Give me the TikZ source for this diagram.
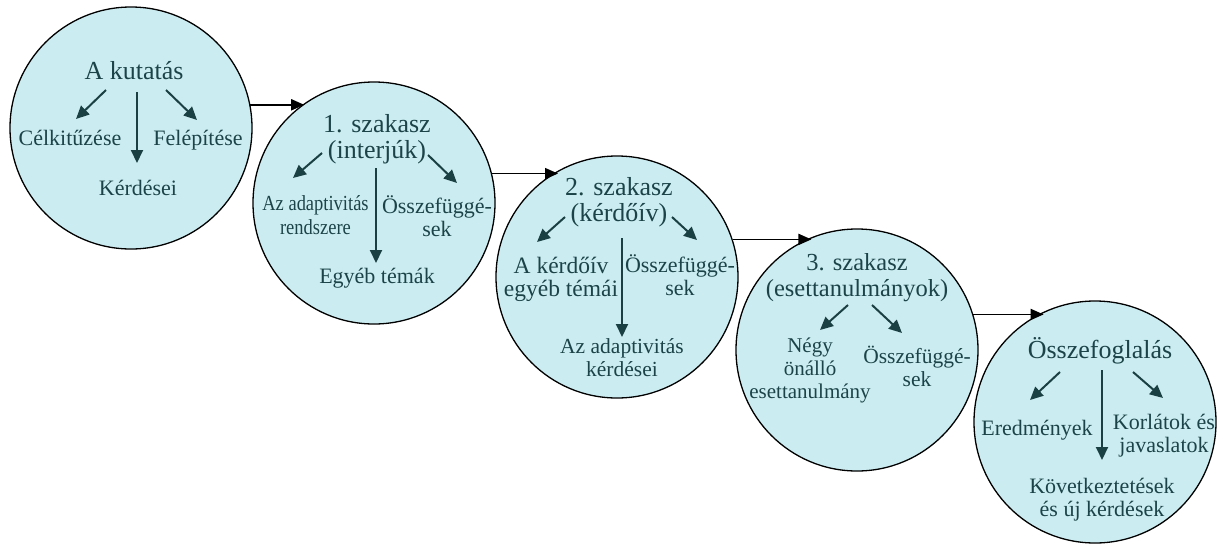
\documentclass[tikz,border=0pt]{standalone}
\usepackage{graphicx}
\usepackage{fontspec}
\setmainfont{Liberation Serif}
\usetikzlibrary{arrows.meta}
\definecolor{bubblefill}{RGB}{203,237,242}
\definecolor{ink}{RGB}{28,68,72}
\definecolor{arrowink}{RGB}{26,64,68}

% horizontally condensed text for a tight label
\newcommand{\narrowtext}[1]{\scalebox{0.86}[1]{#1}}

% multi-line labels are anchored at the baseline of their last line
\tikzset{
  bubble/.style={circle, draw=black, line width=1.3pt, fill=bubblefill,
    minimum size=242pt, inner sep=0pt},
  head/.style={text=ink, font=\fontsize{26}{26.5}\selectfont, anchor=base,
    inner sep=0pt, align=center},
  item/.style={text=ink, font=\fontsize{22}{23}\selectfont, anchor=base,
    inner sep=0pt, align=center},
  branch/.style={draw=arrowink, line width=2pt,
    -{Triangle[length=13pt,width=12pt]}},
  link/.style={draw=black, line width=1.8pt,
    -{Triangle[length=13pt,width=11pt]}},
}

\begin{document}
\begin{tikzpicture}[x=1pt,y=-1pt]
\useasboundingbox (0,0) rectangle (1232,544);

% the five stages
\node[bubble] (c1) at (131,128) {};
\node[bubble] (c2) at (374,203) {};
\node[bubble] (c3) at (617,277) {};
\node[bubble] (c4) at (857,350) {};
\node[bubble] (c5) at (1095,422) {};

% links between the stages
\draw[link] (c1.11.4) -- (c1.11.4 -| c2.125.1);
\draw[link] (c2.14.8) -- (c2.14.8 -| c3.119.8);
\draw[link] (c3.18.8) -- (c3.18.8 -| c4.112.2);
\draw[link] (c4.17.8) -- (c4.17.8 -| c5.115.7);

% stage 0: the research
\node[head] (h1) at (134,79) {A kutatás};
\node[item] (a1) at (70,145) {Célkitűzése};
\node[item] (b1) at (198,145) {Felépítése};
\node[item] (m1) at (138,195) {Kérdései};
\coordinate (s1l) at (106,90);  \coordinate (e1l) at (76,119);
\coordinate (s1m) at (137,92);  \coordinate (e1m) at (137,163);
\coordinate (s1r) at (166,90);  \coordinate (e1r) at (197,120);
\draw[branch] (s1l) -- (e1l);
\draw[branch] (s1m) -- (e1m);
\draw[branch] (s1r) -- (e1r);

% stage 1: interviews
\node[head] (h2) at (377,158.5) {1. szakasz\\(interjúk)};
\node[item, font=\fontsize{21.5}{23.5}\selectfont] (a2) at (315.5,234)
  {\narrowtext{Az adaptivitás}\\\narrowtext{rendszere}};
\node[item] (b2) at (437,236) {Összefüggé-\\sek};
\node[item] (m2) at (377,283) {Egyéb témák};
\coordinate (s2l) at (322,153); \coordinate (e2l) at (293,178);
\coordinate (s2m) at (376,168); \coordinate (e2m) at (376,263);
\coordinate (s2r) at (428,155); \coordinate (e2r) at (457,183);
\draw[branch] (s2l) -- (e2l);
\draw[branch] (s2m) -- (e2m);
\draw[branch] (s2r) -- (e2r);

% stage 2: questionnaire
\node[head] (h3) at (619,221.5) {2. szakasz\\(kérdőív)};
\node[item, font=\fontsize{23.5}{22.5}\selectfont] (a3) at (561,296)
  {A kérdőív\\egyéb témái};
\node[item] (b3) at (680,295) {Összefüggé-\\sek};
\node[item, font=\fontsize{21.5}{22.5}\selectfont] (m3) at (622,376)
  {Az adaptivitás\\kérdései};
\coordinate (s3l) at (565,217); \coordinate (e3l) at (537,242);
\coordinate (s3m) at (622,238); \coordinate (e3m) at (622,337);
\coordinate (s3r) at (672,217); \coordinate (e3r) at (697,240);
\draw[branch] (s3l) -- (e3l);
\draw[branch] (s3m) -- (e3m);
\draw[branch] (s3r) -- (e3r);

% stage 3: case studies
\node[head, font=\fontsize{24.5}{26.5}\selectfont] (h4) at (857,296.5)
  {3. szakasz\\(esettanulmányok)};
\node[item, font=\fontsize{21}{23}\selectfont] (a4) at (810,398)
  {Négy\\önálló\\esettanulmány};
\node[item, font=\fontsize{21.5}{23}\selectfont] (b4) at (917,386)
  {Összefüggé-\\sek};
\coordinate (s4l) at (848,305); \coordinate (e4l) at (820,330);
\coordinate (s4r) at (872,305); \coordinate (e4r) at (902,333);
\draw[branch] (s4l) -- (e4l);
\draw[branch] (s4r) -- (e4r);

% summary
\node[head] (h5) at (1100,358) {Összefoglalás};
\node[item] (a5) at (1037,435) {Eredmények};
\node[item] (b5) at (1164,452) {Korlátok és\\javaslatok};
\node[item] (m5) at (1102,516) {Következtetések\\és új kérdések};
\coordinate (s5l) at (1060,372); \coordinate (e5l) at (1030,400);
\coordinate (s5m) at (1102,370); \coordinate (e5m) at (1102,460);
\coordinate (s5r) at (1133,372); \coordinate (e5r) at (1163,398);
\draw[branch] (s5l) -- (e5l);
\draw[branch] (s5m) -- (e5m);
\draw[branch] (s5r) -- (e5r);
\end{tikzpicture}
\end{document}
